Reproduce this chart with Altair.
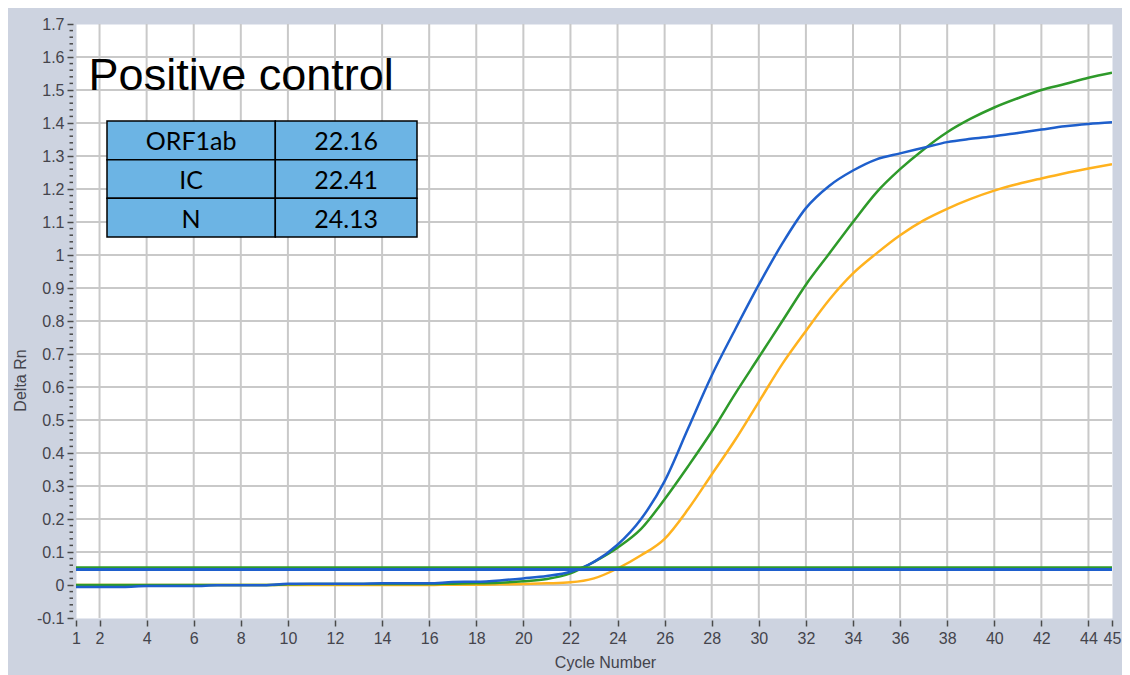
import altair as alt
import pandas as pd

# ---------------- data ----------------
cycles = list(range(1, 46))

orf1ab_blue = [-0.006, -0.006, -0.006, -0.003, -0.003, -0.003, -0.001, -0.001, -0.001, 0.004,
               0.004, 0.004, 0.004, 0.005, 0.005, 0.005, 0.009, 0.010, 0.014, 0.020,
               0.027, 0.040, 0.070, 0.122, 0.200, 0.315, 0.475, 0.635, 0.775, 0.910,
               1.035, 1.142, 1.210, 1.256, 1.290, 1.308, 1.325, 1.342, 1.352, 1.360,
               1.370, 1.380, 1.390, 1.397, 1.402]

ic_green = [0.000, 0.000, 0.000, 0.000, 0.000, 0.000, 0.000, 0.000, 0.000, 0.002,
            0.003, 0.003, 0.003, 0.003, 0.003, 0.003, 0.004, 0.005, 0.007, 0.011,
            0.018, 0.035, 0.070, 0.113, 0.170, 0.260, 0.360, 0.465, 0.580, 0.690,
            0.800, 0.910, 1.005, 1.100, 1.190, 1.260, 1.320, 1.372, 1.413, 1.447,
            1.475, 1.500, 1.518, 1.537, 1.552]

n_orange = [0.000, 0.000, 0.000, 0.000, 0.000, 0.000, 0.000, 0.000, 0.000, 0.000,
            0.000, 0.000, 0.000, 0.000, 0.000, 0.000, 0.001, 0.001, 0.002, 0.003,
            0.005, 0.008, 0.020, 0.050, 0.090, 0.140, 0.230, 0.335, 0.440, 0.555,
            0.670, 0.770, 0.865, 0.944, 1.005, 1.060, 1.105, 1.140, 1.170, 1.195,
            1.215, 1.232, 1.248, 1.262, 1.275]

series_names = ["N", "IC", "ORF1ab"]          # drawing order (bottom -> top)
series_colors = ["#FFB21E", "#2E9A2A", "#1E5FCC"]

threshold_names = ["IC", "ORF1ab"]
threshold_values = [0.052, 0.047]
threshold_colors = ["#2E9A2A", "#1E5FCC"]

x_ticks = [1, 2, 4, 6, 8, 10, 12, 14, 16, 18, 20, 22, 24, 26, 28, 30, 32, 34, 36, 38, 40, 42, 44, 45]
x_grid = [2, 4, 6, 8, 10, 12, 14, 16, 18, 20, 22, 24, 26, 28, 30, 32, 34, 36, 38, 40, 42, 44]
y_ticks = [-0.1, 0.0, 0.1, 0.2, 0.3, 0.4, 0.5, 0.6, 0.7, 0.8, 0.9, 1.0, 1.1, 1.2, 1.3, 1.4, 1.5, 1.6, 1.7]
y_grid = [0.0, 0.1, 0.2, 0.3, 0.4, 0.5, 0.6, 0.7, 0.8, 0.9, 1.0, 1.1, 1.2, 1.3, 1.4, 1.5, 1.6]
y_minor = [round(-0.1 + 0.02 * i, 2) for i in range(91) if i % 5 != 0]

title_text = "Positive control"
table_targets = ["ORF1ab", "IC", "N"]
table_ct = ["22.16", "22.41", "24.13"]
table_columns = [0, 1]            # column index: 0 = target, 1 = Ct

# ---------------- frames ----------------
curve_frames = {
    "ORF1ab": pd.DataFrame({"cycle": cycles, "value": orf1ab_blue}),
    "IC": pd.DataFrame({"cycle": cycles, "value": ic_green}),
    "N": pd.DataFrame({"cycle": cycles, "value": n_orange}),
}

GRID = "#C9C9C9"
TXT = "#44444C"
TICK = "#4A4A4A"
FONT = "Liberation Sans"

xs = alt.Scale(domain=[1, 45], nice=False, zero=False)
ys = alt.Scale(domain=[-0.1, 1.7], nice=False, zero=False)

x_axis = alt.Axis(
    values=x_ticks, grid=False, domain=False, tickSize=6, tickWidth=1.5, tickColor=TICK, offset=2,
    labelFont=FONT, labelFontSize=16, labelColor=TXT, labelPadding=4, labelFlush=False, labelOverlap=False,
    title="Cycle Number", titleFont=FONT, titleFontSize=16, titleFontWeight="normal", titleColor=TXT,
    titleX=529, titleY=47, titleBaseline="alphabetic", titleAlign="center",
)
y_axis = alt.Axis(
    values=y_ticks, grid=False, domain=False, tickSize=6, tickWidth=1.5, tickColor=TICK, offset=3,
    labelFont=FONT, labelFontSize=16, labelColor=TXT, labelPadding=3, labelFlush=False, labelOverlap=False,
    labelExpr="datum.value < 0 ? '-' + format(-datum.value, '.1~f') : format(datum.value, '.1~f')",
    title="Delta Rn", titleFont=FONT, titleFontSize=16, titleFontWeight="normal", titleColor=TXT,
    titleAngle=270, titleX=-48, titleY=356, titleBaseline="alphabetic", titleAlign="center",
)

X = lambda f="cycle:Q": alt.X(f, scale=xs, axis=x_axis)
Y = lambda f="value:Q": alt.Y(f, scale=ys, axis=y_axis)

vgrid = alt.Chart(pd.DataFrame({"cycle": x_grid})).mark_rule(color=GRID, strokeWidth=2).encode(x=X())
hgrid = alt.Chart(pd.DataFrame({"value": y_grid})).mark_rule(color=GRID, strokeWidth=2).encode(y=Y())

curve_layers = []
for name, color in zip(series_names, series_colors):
    curve_layers.append(
        alt.Chart(curve_frames[name]).mark_line(color=color, strokeWidth=2.5, clip=True,
                                                interpolate="monotone").encode(x=X(), y=Y())
    )

thr_layers = []
for name, val, color in zip(threshold_names, threshold_values, threshold_colors):
    thr_layers.append(
        alt.Chart(pd.DataFrame({"value": [val]})).mark_rule(color=color, strokeWidth=3).encode(y=Y())
    )

minor = alt.Chart(pd.DataFrame({"value": y_minor})).mark_rule(color=TICK, strokeWidth=1.5).encode(
    y=Y(), x=alt.value(-6.5), x2=alt.value(-3)
)

title_layer = alt.Chart(pd.DataFrame({"t": [title_text]})).mark_text(
    font=FONT, fontSize=45, color="black", align="left", baseline="alphabetic"
).encode(x=alt.value(12.6), y=alt.value(66), text="t:N")

main = alt.layer(vgrid, hgrid, *curve_layers, *thr_layers, minor, title_layer)

# ---------------- table ----------------
rows = []
for tgt, ct in zip(table_targets, table_ct):
    rows.append({"row": tgt, "col": table_columns[0], "label": tgt})
    rows.append({"row": tgt, "col": table_columns[1], "label": ct})
tdf = pd.DataFrame(rows)

# piecewise column scale: the target column is wider than the Ct column
tscale = alt.Scale(domain=[0, 1, 2], range=[31, 199.3, 341], nice=False, zero=False)
ty = alt.Y("row:N", scale=alt.Scale(domain=table_targets, range=[97, 213], paddingInner=0, paddingOuter=0), axis=None)

cells = alt.Chart(tdf).transform_calculate(col_end="datum.col + 1").mark_rect(
    fill="#6CB4E4", stroke="black", strokeWidth=1.5
).encode(x=alt.X("col:Q", scale=tscale, axis=None), x2="col_end:Q", y=ty)
cell_text = alt.Chart(tdf).transform_calculate(col_mid="datum.col + 0.5").mark_text(
    font="Lato", fontSize=25, color="black", dy=2, align="center", baseline="middle"
).encode(x=alt.X("col_mid:Q", scale=tscale, axis=None), y=ty, text="label:N")
table = alt.layer(cells, cell_text)

chart = alt.layer(main, table).resolve_scale(x="independent", y="independent").properties(
    width=1036, height=594,
    autosize=alt.AutoSizeParams(type="none"),
    padding={"left": 68, "top": 16, "right": 10, "bottom": 57},
    background="#CDD3E0",
).configure_view(fill="white", stroke="transparent").configure_axis(labelOverlap=False)

chart.save("out.html", embed_options={"renderer": "svg", "actions": False})
